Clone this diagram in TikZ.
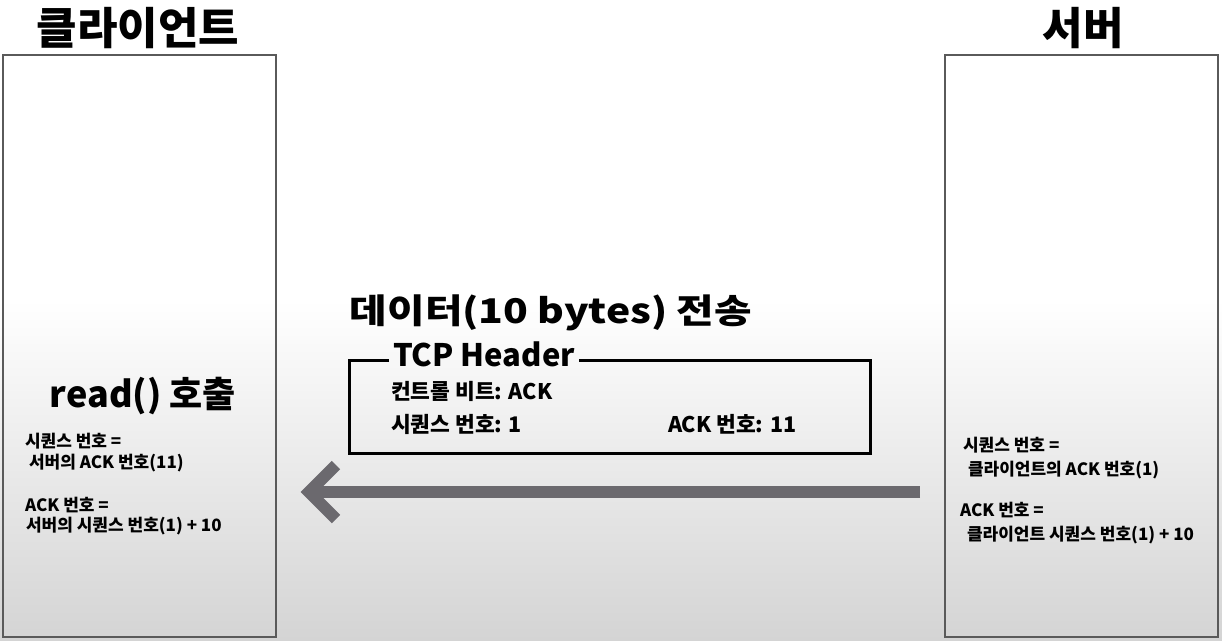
\documentclass[tikz,border=0pt]{standalone}
\usepackage{fontspec}
\newfontfamily\kr{Noto Sans CJK KR}
\newfontfamily\krwide{Noto Sans CJK KR}[FakeStretch=1.2]
\definecolor{boxgray}{RGB}{90,90,90}
\definecolor{arrowgray}{RGB}{107,105,110}
\definecolor{bottomgray}{RGB}{212,212,212}
\begin{document}
\begin{tikzpicture}[x=1pt,y=-1pt,
  every node/.style={inner sep=0pt, outer sep=0pt, font=\kr\bfseries},
  sidebox/.style={draw=boxgray, line width=1.5pt, minimum width=273pt, minimum height=582pt},
  bigtitle/.style={font=\kr\bfseries\fontsize{44}{50}\selectfont},
  midtitle/.style={font=\krwide\bfseries\fontsize{34}{40}\selectfont},
  hdrtext/.style={anchor=west, font=\kr\bfseries\fontsize{21.5}{25}\selectfont},
  bodytext/.style={anchor=west, font=\kr\bfseries\fontsize{17}{20}\selectfont},
  arrowline/.style={draw=arrowgray, line width=12pt}
]
\useasboundingbox (0,0) rectangle (1222,640);
\fill[white] (0,0) rectangle (1222,300);
\shade[top color=white, bottom color=bottomgray] (0,300) rectangle (1222,640);

% titles
\node[bigtitle] (ctitle) at (138,28) {클라이언트};
\node[bigtitle] (stitle) at (1083,28) {서버};

% side boxes
\node[sidebox] (cbox) at (139.5,346) {};
\node[sidebox] (sbox) at (1081.5,346) {};

% center
\node[midtitle] (send) at (551,313) {데이터(10 bytes) 전송};
\node[minimum width=521pt, minimum height=93pt] (hdr) at (609.5,406.5) {};
\node[anchor=west, font=\kr\bfseries\fontsize{31}{36}\selectfont] (tcp) at (393,354) {TCP Header};
\draw[line width=3pt] ([xshift=-4pt]tcp.west |- hdr.north) -- (hdr.north west) -- (hdr.south west) -- (hdr.south east) -- (hdr.north east) -- ([xshift=4pt]tcp.east |- hdr.north);
\node[hdrtext] (ctrl) at (391,391) {컨트롤 비트: ACK};
\node[hdrtext] (seq) at (391,424) {시퀀스 번호: 1};
\node[hdrtext] (ack) at (668,424) {ACK 번호: 11};

% arrow
\coordinate (arrS) at (920,492);
\coordinate (arrE) at (309,492);
\draw[arrowline] (arrS) -- (arrE);
\draw[arrowline, line join=miter] ([shift={(27,-27)}]arrE) -- (arrE) -- ([shift={(27,27)}]arrE);

% client side
\node[font=\kr\bfseries\fontsize{36}{42}\selectfont] (read) at (143,396) {read() 호출};
\node[bodytext] (l1) at (25,441) {시퀀스 번호 =};
\node[bodytext] (l2) at (29,463) {서버의 ACK 번호(11)};
\node[bodytext] (l3) at (25,505) {ACK 번호 =};
\node[bodytext] (l4) at (26,526) {서버의 시퀀스 번호(1) + 10};

% server side
\node[bodytext] (r1) at (963,445) {시퀀스 번호 =};
\node[bodytext] (r2) at (968,470) {클라이언트의 ACK 번호(1)};
\node[bodytext] (r3) at (960,510) {ACK 번호 =};
\node[bodytext] (r4) at (967,535) {클라이언트 시퀀스 번호(1) + 10};
\end{tikzpicture}
\end{document}
